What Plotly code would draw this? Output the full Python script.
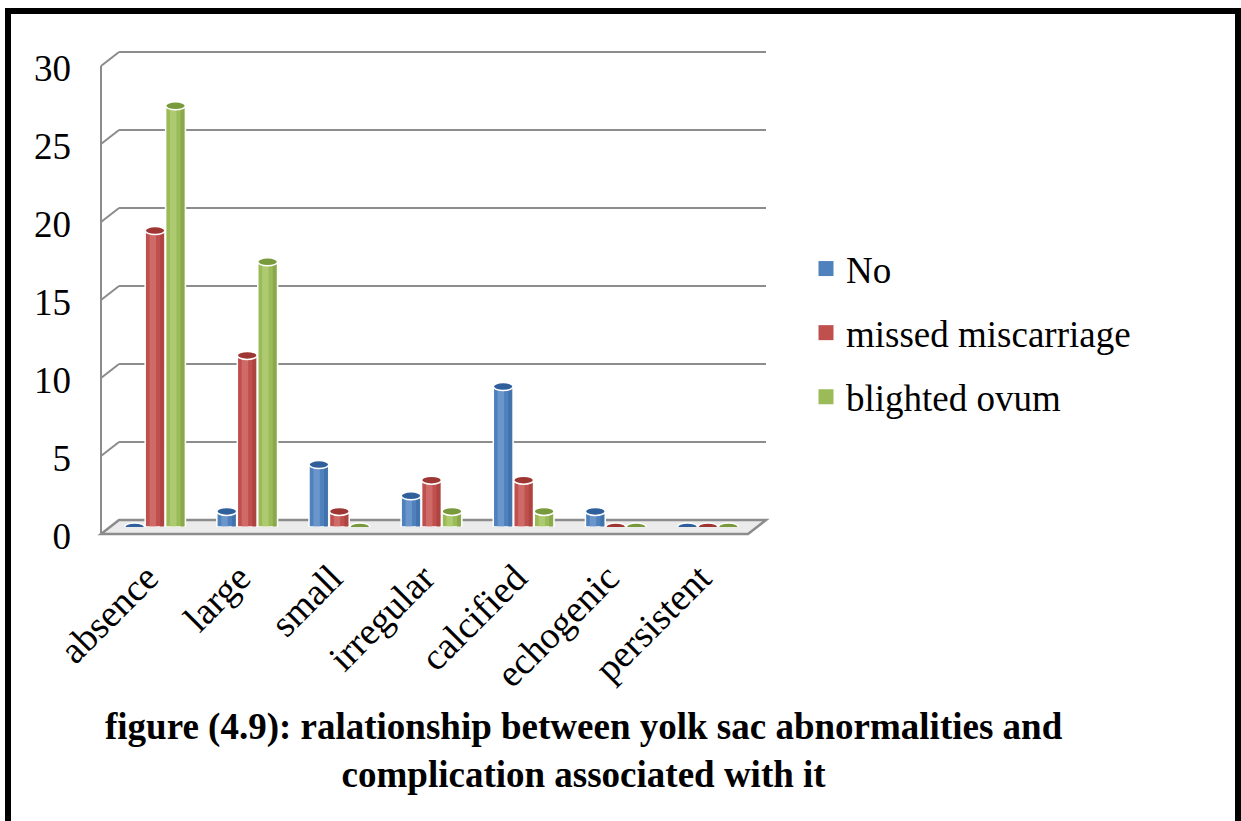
import plotly.graph_objects as go

# ---- data -------------------------------------------------------------
categories = ["absence", "large", "small", "irregular", "calcified", "echogenic", "persistent"]
no_vals = [0, 1, 4, 2, 9, 1, 0]
missed_vals = [19, 11, 1, 3, 3, 0, 0]
blighted_vals = [27, 17, 0, 1, 1, 0, 0]
series_names = ["No", "missed miscarriage", "blighted ovum"]
y_ticks = [0, 5, 10, 15, 20, 25, 30]
title_text = ("figure (4.9): ralationship between yolk sac abnormalities and"
              "<br>complication associated with it")

# ---- geometry / style -------------------------------------------------
W, H = 1241, 821
FONT = "Liberation Serif"
colors = ["#4F81BD", "#C0504D", "#9BBB59"]
light_colors = ["#8DB0DD", "#E08C89", "#C6DE8E"]
dark_colors = ["#2E5A8E", "#8C2E2B", "#6A8835"]
cap_colors = ["#30609C", "#9E3734", "#789A3C"]
grid_color = "#8C8C8C"

X_LEFT, X_RIGHT = 109, 754        # mid-depth plot area (px)
Y_TOP, Y_BOTTOM = 59, 527         # value 30 -> Y_TOP, value 0 -> Y_BOTTOM
DY = 7                            # half depth of the pseudo-3D walls (px)
Y_MAX = 30
offsets = [-0.222, 0.0, 0.222]
bar_w = 0.215


def px(x):
    return x / W


def py(y):
    return 1 - y / H


def y_px(v):
    return Y_BOTTOM - v * (Y_BOTTOM - Y_TOP) / Y_MAX


fig = go.Figure()

all_vals = [no_vals, missed_vals, blighted_vals]
for k, (name, vals) in enumerate(zip(series_names, all_vals)):
    xs = [i + offsets[k] for i in range(len(categories))]
    # cylinder body
    fig.add_trace(go.Bar(
        x=xs, y=vals, width=bar_w, name=name, legendgroup=name, showlegend=False,
        marker=dict(color=colors[k], line=dict(color="white", width=1.5)),
    ))
    # shading: soft highlight left of centre, darker strip on the right edge
    fig.add_trace(go.Bar(
        x=[x - 0.025 for x in xs], y=vals, width=0.07, legendgroup=name,
        showlegend=False, hoverinfo="skip",
        marker=dict(color=light_colors[k], opacity=0.45, line=dict(width=0)),
    ))
    fig.add_trace(go.Bar(
        x=[x + 0.075 for x in xs], y=vals, width=0.04, legendgroup=name,
        showlegend=False, hoverinfo="skip",
        marker=dict(color=dark_colors[k], opacity=0.35, line=dict(width=0)),
    ))
    # legend swatch
    fig.add_trace(go.Scatter(
        x=[None], y=[None], mode="markers", name=name, legendgroup=name,
        marker=dict(symbol="square", size=15, color=colors[k]),
    ))

shapes = []

# floor slab
floor_back = Y_BOTTOM - DY
floor_front = Y_BOTTOM + DY
xl_back, xl_front = X_LEFT + 10, X_LEFT - 8
xr_back, xr_front = X_RIGHT + 12, X_RIGHT - 6
floor_path = (f"M{px(xl_back)},{py(floor_back)} L{px(xr_back)},{py(floor_back)} "
              f"L{px(xr_front)},{py(floor_front)} L{px(xl_front)},{py(floor_front)} Z")
shapes.append(dict(type="path", path=floor_path, xref="paper", yref="paper",
                   fillcolor="#EBEBEB", line=dict(color=grid_color, width=2.5), layer="below"))

# back-wall gridlines with their side-wall diagonals
for v in y_ticks[1:]:
    yb = y_px(v) - DY
    yf = y_px(v) + DY
    shapes.append(dict(type="line", xref="paper", yref="paper",
                       x0=px(xl_back), x1=px(xr_back), y0=py(yb), y1=py(yb),
                       line=dict(color=grid_color, width=2), layer="below"))
    shapes.append(dict(type="line", xref="paper", yref="paper",
                       x0=px(xl_front), x1=px(xl_back), y0=py(yf), y1=py(yb),
                       line=dict(color=grid_color, width=2), layer="below"))

# front vertical edge of the side wall
shapes.append(dict(type="line", xref="paper", yref="paper",
                   x0=px(xl_front), x1=px(xl_front),
                   y0=py(y_px(0) + DY), y1=py(y_px(Y_MAX) + DY),
                   line=dict(color=grid_color, width=2), layer="below"))

# cylinder caps
for k, vals in enumerate(all_vals):
    for i, v in enumerate(vals):
        xc = i + offsets[k]
        shapes.append(dict(type="circle", xref="x", yref="y",
                           ysizemode="pixel", yanchor=v, y0=-4, y1=4,
                           x0=xc - bar_w / 2, x1=xc + bar_w / 2,
                           fillcolor=cap_colors[k],
                           line=dict(color="white", width=1.5), layer="above"))

# outer frame (open at the bottom edge of the page)
frame = (f"M{px(8)},{py(H + 20)} L{px(8)},{py(11)} "
         f"L{px(1238)},{py(11)} L{px(1238)},{py(H + 20)}")
shapes.append(dict(type="path", path=frame, xref="paper", yref="paper",
                   line=dict(color="black", width=6)))

fig.update_layout(
    width=W, height=H, autosize=False,
    margin=dict(l=0, r=0, t=0, b=0),
    paper_bgcolor="white", plot_bgcolor="rgba(0,0,0,0)",
    font=dict(family=FONT, color="black", size=36),
    barmode="overlay",
    showlegend=True,
    legend=dict(x=px(806), xanchor="left", y=py(333), yanchor="middle",
                font=dict(family=FONT, size=37, color="black"),
                tracegroupgap=13, bgcolor="rgba(0,0,0,0)"),
    xaxis=dict(domain=[px(X_LEFT), px(X_RIGHT)], range=[-0.5, len(categories) - 0.5],
               tickmode="array", tickvals=list(range(len(categories))), ticktext=categories,
               tickangle=-45, showgrid=False, zeroline=False, showline=False,
               ticks="", automargin=False, ticklabelstandoff=20, ticklabelshift=-8,
               tickfont=dict(family=FONT, size=38, color="black")),
    yaxis=dict(domain=[py(Y_BOTTOM), py(Y_TOP)], range=[0, Y_MAX],
               tickmode="array", tickvals=y_ticks,
               showgrid=False, zeroline=False, showline=False,
               ticks="", automargin=False, ticklabelstandoff=37, ticklabelshift=9,
               tickfont=dict(family=FONT, size=37, color="black")),
    shapes=shapes,
    annotations=[dict(text=f"<b>{title_text}</b>", xref="paper", yref="paper",
                      x=px(584), y=py(750), xanchor="center", yanchor="middle",
                      showarrow=False, align="center",
                      font=dict(family=FONT, size=37, color="black"))],
)

fig.write_html("out.html")
